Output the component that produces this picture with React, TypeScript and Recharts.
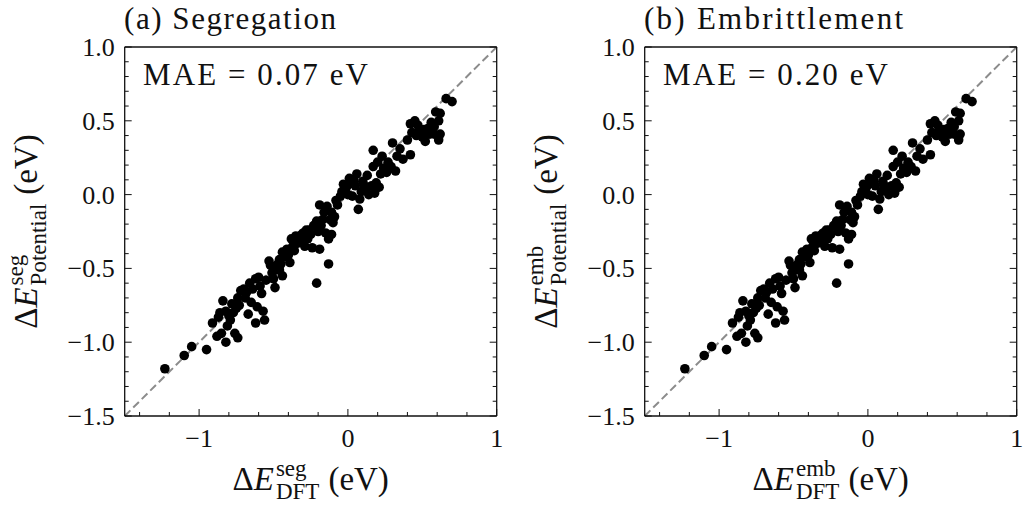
import React from "react";
import { ScatterChart, Scatter, XAxis, YAxis, ReferenceLine } from "recharts";

// DFT vs potential energies (eV); both panels show the same cloud of points
const dftValues = [
  -1.23, -1.1, -1.05, -0.95, -0.91, -0.87, -0.88, -0.85, -0.82, -0.84, -0.82, -0.79, -0.81, -0.76, -0.74,
  -0.77, -0.75, -0.72, -0.7, -0.67, -0.65, -0.62, -0.61, -0.59, -0.6, -0.57, -0.56, -0.58, -0.62, -0.74,
  -0.78, -0.68, -0.64, -0.52, -0.51, -0.5, -0.49, -0.48, -0.46, -0.44, -0.44, -0.46, -0.39, -0.41, -0.38,
  -0.37, -0.34, -0.32, -0.3, -0.29, -0.27, -0.24, -0.23, -0.21, -0.19, -0.21, -0.13, -0.19, -0.16, -0.18,
  -0.15, -0.13, -0.11, -0.1, -0.09, -0.11, -0.14, -0.42, -0.35, -0.26, -0.47, -0.07, -0.05, -0.03, -0.01,
  0.02, 0.04, 0.06, 0.03, 0.07, 0.08, 0.09, 0.11, 0.14, 0.16, 0.18, 0.19, 0.21, 0.17, 0.17,
  0.23, 0.24, 0.26, 0.29, 0.3, 0.32, 0.33, 0.37, 0.42, 0.42, 0.45, 0.43, 0.48, 0.46, 0.5,
  0.52, 0.51, 0.54, 0.58, 0.59, 0.62, 0.61, 0.62, 0.61, 0.58, 0.66, 0.7, 0.01, 0.13, 0.2,
  -0.86, -0.8, -0.73, -0.69, -0.66, -0.55, -0.53, -0.45, -0.4, -0.36, -0.31, -0.28, -0.25, -0.2, -0.17,
  -0.12, -0.08, -0.04, 0.0, 0.05, 0.1, 0.12, 0.22, 0.27, 0.35, 0.4, 0.47, 0.55, 0.56,
];
const potentialValues = [
  -1.18, -1.09, -1.03, -1.05, -0.87, -0.83, -0.96, -0.94, -1.0, -0.72, -0.79, -0.85, -0.89, -0.94, -0.97,
  -0.8, -0.77, -0.65, -0.64, -0.81, -0.73, -0.87, -0.76, -0.62, -0.56, -0.79, -0.85, -0.67, -0.57, -0.7,
  -0.74, -0.66, -0.64, -0.48, -0.53, -0.57, -0.63, -0.51, -0.44, -0.39, -0.55, -0.51, -0.46, -0.37, -0.3,
  -0.35, -0.33, -0.3, -0.26, -0.35, -0.3, -0.36, -0.21, -0.18, -0.37, -0.6, -0.47, -0.07, -0.12, -0.21,
  -0.26, -0.3, -0.27, -0.19, -0.15, -0.12, -0.08, -0.42, -0.28, -0.24, -0.47, -0.07, -0.01, 0.07, 0.05,
  0.08, 0.1, 0.14, -0.01, -0.1, -0.03, 0.02, 0.06, 0.0, 0.06, 0.01, 0.08, 0.05, 0.3, 0.19,
  0.26, 0.18, 0.15, 0.19, 0.35, 0.16, 0.26, 0.24, 0.27, 0.48, 0.5, 0.42, 0.44, 0.4, 0.39,
  0.36, 0.44, 0.45, 0.46, 0.56, 0.55, 0.5, 0.41, 0.37, 0.41, 0.65, 0.63, 0.11, 0.13, 0.22,
  -0.8, -0.82, -0.75, -0.7, -0.6, -0.58, -0.45, -0.47, -0.41, -0.38, -0.27, -0.24, -0.27, -0.25, -0.17,
  -0.17, -0.04, 0.02, 0.0, 0.06, 0.09, 0.03, 0.14, 0.22, 0.31, 0.37, 0.47, 0.41, 0.49,
];

const xTicks = [-1.4, -1.2, -1.0, -0.8, -0.6, -0.4, -0.2, 0, 0.2, 0.4, 0.6, 0.8, 1.0];
const yTicks = [
  -1.5, -1.4, -1.3, -1.2, -1.1, -1.0, -0.9, -0.8, -0.7, -0.6, -0.5, -0.4, -0.3, -0.2, -0.1,
  0, 0.1, 0.2, 0.3, 0.4, 0.5, 0.6, 0.7, 0.8, 0.9, 1.0,
];
const panelTitles = ["(a) Segregation", "(b) Embrittlement"];
const maeLabels = ["MAE = 0.07 eV", "MAE = 0.20 eV"];
const energyTags = ["seg", "emb"];

const SERIF = "Liberation Serif, DejaVu Serif, serif";
const INK = "#111";

const points = dftValues.map((x, i) => ({ x, y: potentialValues[i] }));

const fmt = (v: number, digits: number) => (v < -1e-9 ? "\u2212" : "") + Math.abs(v).toFixed(digits);
const isMajorX = (v: number) => Math.abs(v - Math.round(v)) < 1e-6;
const isMajorY = (v: number) => Math.abs(v * 2 - Math.round(v * 2)) < 1e-6;

// rough advance widths (em) for the script letters, used to stack sub under sup
const charW: Record<string, number> = { s: 0.389, e: 0.444, g: 0.5, m: 0.778, b: 0.5 };
const textW = (s: string, size: number) => s.split("").reduce((a, c) => a + (charW[c] || 0.5), 0) * size;

const serifStyle = { fontFamily: SERIF };

const BottomTick = ({ x, y, payload }: any) => {
  const major = isMajorX(payload.value);
  return (
    <g>
      <line x1={x} x2={x} y1={y} y2={y - (major ? 7 : 4)} stroke={INK} strokeWidth={1} />
      {major && (
        <text x={x} y={y + 31} textAnchor="middle" fontSize={26} style={serifStyle} fill={INK}>
          {fmt(payload.value, 0)}
        </text>
      )}
    </g>
  );
};

const TopTick = ({ x, y, payload }: any) => {
  const major = isMajorX(payload.value);
  return <line x1={x} x2={x} y1={y} y2={y + (major ? 7 : 4)} stroke={INK} strokeWidth={1} />;
};

const LeftTick = ({ x, y, payload }: any) => {
  const major = isMajorY(payload.value);
  return (
    <g>
      <line x1={x} x2={x + (major ? 7 : 4)} y1={y} y2={y} stroke={INK} strokeWidth={1} />
      {major && (
        <text x={x - 10} y={y + 9} textAnchor="end" fontSize={26} style={serifStyle} fill={INK}>
          {fmt(payload.value, 1)}
        </text>
      )}
    </g>
  );
};

const RightTick = ({ x, y, payload }: any) => {
  const major = isMajorY(payload.value);
  return <line x1={x} x2={x - (major ? 7 : 4)} y1={y} y2={y} stroke={INK} strokeWidth={1} />;
};

const Dot = (props: any) => <circle cx={props.cx} cy={props.cy} r={4.8} fill="#000" />;

function AxisTitle({ x, y, tag, sub, rotate }: { x: number; y: number; tag: string; sub: string; rotate?: boolean }) {
  return (
    <text
      x={x}
      y={y}
      transform={rotate ? `rotate(-90 ${x} ${y})` : undefined}
      textAnchor="middle"
      style={serifStyle}
      fontSize={33}
      fill={INK}
    >
      <tspan>Δ</tspan>
      <tspan fontStyle="italic">E</tspan>
      <tspan fontSize={23} dx={2} dy={-14}>{tag}</tspan>
      <tspan fontSize={23} dx={-textW(tag, 23)} dy={23}>{sub}</tspan>
      <tspan dx={9} dy={-9}>(eV)</tspan>
    </text>
  );
}

function Panel({ idx, left }: { idx: number; left: number }) {
  const axisLine = { stroke: INK, strokeWidth: 1.3 };
  return (
    <div style={{ position: "absolute", left, top: 0, width: 505, height: 510 }}>
      <ScatterChart width={505} height={510} margin={{ top: 37, right: 3.3, bottom: 44, left: 0 }}>
        <XAxis
          type="number"
          dataKey="x"
          xAxisId="b"
          orientation="bottom"
          height={50}
          domain={[-1.5, 1]}
          allowDataOverflow
          ticks={xTicks}
          interval={0}
          tickSize={0}
          tickMargin={0}
          axisLine={axisLine}
          tickLine={false}
          tick={<BottomTick />}
        />
        <XAxis
          type="number"
          xAxisId="t"
          orientation="top"
          height={10}
          domain={[-1.5, 1]}
          allowDataOverflow
          ticks={xTicks}
          interval={0}
          tickSize={0}
          tickMargin={0}
          axisLine={axisLine}
          tickLine={false}
          tick={<TopTick />}
        />
        <YAxis
          type="number"
          dataKey="y"
          yAxisId="l"
          orientation="left"
          width={124.7}
          domain={[-1.5, 1]}
          allowDataOverflow
          ticks={yTicks}
          interval={0}
          tickSize={0}
          tickMargin={0}
          axisLine={axisLine}
          tickLine={false}
          tick={<LeftTick />}
        />
        <YAxis
          type="number"
          yAxisId="r"
          orientation="right"
          width={5}
          domain={[-1.5, 1]}
          allowDataOverflow
          ticks={yTicks}
          interval={0}
          tickSize={0}
          tickMargin={0}
          axisLine={axisLine}
          tickLine={false}
          tick={<RightTick />}
        />
        <Scatter data={points} xAxisId="b" yAxisId="l" fill="#000" shape={<Dot />} isAnimationActive={false} />
        <ReferenceLine
          xAxisId="b"
          yAxisId="l"
          segment={[{ x: -1.5, y: -1.5 }, { x: 1, y: 1 }]}
          stroke="#8c8c8c"
          strokeWidth={2}
          strokeDasharray="8 4"
        />
      </ScatterChart>
      <svg width={505} height={510} style={{ position: "absolute", left: 0, top: 0, pointerEvents: "none" }}>
        <text
          x={124}
          y={29}
          style={serifStyle}
          fontSize={31}
          fill={INK}
          textLength={idx === 0 ? 212 : 259}
          lengthAdjust="spacing"
        >
          {panelTitles[idx]}
        </text>
        <text x={143} y={85} style={serifStyle} fontSize={31} fill={INK} textLength={225} lengthAdjust="spacing">
          {maeLabels[idx]}
        </text>
        <AxisTitle x={310.7} y={490} tag={energyTags[idx]} sub="DFT" />
        <AxisTitle x={37} y={231.5} tag={energyTags[idx]} sub="Potential" rotate />
      </svg>
    </div>
  );
}

export default function App() {
  return (
    <div style={{ position: "absolute", left: 0, top: 0, width: 1025, height: 510, overflow: "hidden", background: "#fff" }}>
      <Panel idx={0} left={0} />
      <Panel idx={1} left={519.5} />
    </div>
  );
}
